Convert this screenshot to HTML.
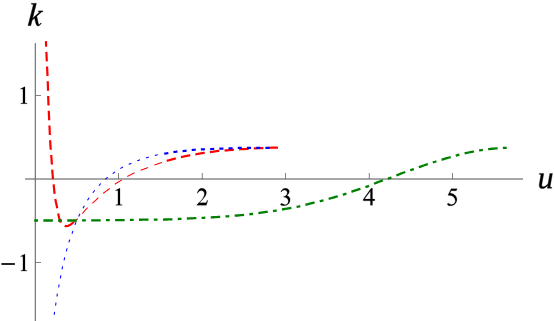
<!DOCTYPE html>
<html><head><meta charset="utf-8"><title>plot</title>
<style>
html,body{margin:0;padding:0;background:#fff;}
svg{display:block;}
</style></head>
<body>
<svg width="554" height="321" viewBox="0 0 554 321">
<rect width="554" height="321" fill="#fff"/>
<g fill="none">
<line x1="25.0" y1="179.0" x2="523" y2="179.0" stroke="#505050" stroke-width="1"/>
<line x1="35.3" y1="43.3" x2="35.3" y2="321" stroke="#666" stroke-width="1.1"/>
</g>
<g stroke="#666" stroke-width="0.83" fill="none">
<line x1="118.50" y1="179.0" x2="118.50" y2="173.0"/><line x1="202.30" y1="179.0" x2="202.30" y2="173.0"/><line x1="285.50" y1="179.0" x2="285.50" y2="173.0"/><line x1="369.30" y1="179.0" x2="369.30" y2="173.0"/><line x1="452.50" y1="179.0" x2="452.50" y2="173.0"/>
<line x1="35.3" y1="95.5" x2="41.0" y2="95.5"/><line x1="35.3" y1="262.5" x2="41.0" y2="262.5"/>
</g>
<g fill="#000">
<path transform="translate(112.50 205.20) scale(0.01245 -0.01245)" d="M240 1194L570 1356L603 1356L603 200Q603 90 620 65Q645 40 774 37L774 0L264 0L264 37Q395 40 420 65Q438 90 438 200L438 942Q438 1090 428 1132Q415 1194 358 1194Q321 1194 255 1163Z" stroke="#000" stroke-width="16.1"/>
<path transform="translate(196.18 205.20) scale(0.01245 -0.01245)" d="M939 387L814 0H55V37Q390 342 526.5 536Q663 730 663 891Q663 1014 588 1093Q513 1172 408 1172Q313 1172 237.5 1116.5Q162 1061 126 954H89Q113 1131 210.5 1243.5Q308 1356 455 1356Q612 1356 717 1255.5Q822 1155 822 1018Q822 920 777 822Q707 669 550 498Q315 241 256 188H592Q694 188 735.5 195.5Q777 203 811 226.5Q845 250 870 387Z" stroke="#000" stroke-width="16.1"/>
<path transform="translate(279.52 205.20) scale(0.01245 -0.01245)" d="M104 1077Q162 1214 250.5 1288.5Q339 1363 471 1363Q634 1363 721 1257Q787 1178 787 1088Q787 940 601 782Q726 733 790 642Q854 551 854 428Q854 252 742 123Q596 -45 319 -45Q182 -45 132.5 -11Q83 23 83 62Q83 91 106.5 113Q130 135 163 135Q188 135 214 127Q231 122 291 90.5Q351 59 374 53Q411 42 453 42Q555 42 630.5 121Q706 200 706 308Q706 387 671 462Q645 518 614 547Q571 587 496 619.5Q421 652 343 652H311V682Q390 692 469.5 739Q549 786 585 852Q621 918 621 997Q621 1100 556.5 1163.5Q492 1227 396 1227Q241 1227 137 1061Z" stroke="#000" stroke-width="16.1"/>
<path transform="translate(362.88 205.20) scale(0.01245 -0.01245)" d="M953 490V350H771V0H606V350H32V476L661 1356H771V490ZM606 490V1150L135 490Z" stroke="#000" stroke-width="16.1"/>
<path transform="translate(446.10 205.20) scale(0.01245 -0.01245)" d="M892 1328L814 1158H406L317 976Q582 937 737 779Q870 643 870 459Q870 352 826.5 261Q783 170 717 106Q651 42 570 3Q455 -52 334 -52Q212 -52 156.5 -10.5Q101 31 101 81Q101 109 124 130.5Q147 152 182 152Q208 152 227.5 144Q247 136 294 103Q369 51 446 51Q563 51 651.5 139.5Q740 228 740 355Q740 478 661 584.5Q582 691 443 749Q334 794 146 801L406 1328Z" stroke="#000" stroke-width="16.1"/>
<path transform="translate(17.50 103.70) scale(0.01245 -0.01245)" d="M240 1194L570 1356L603 1356L603 200Q603 90 620 65Q645 40 774 37L774 0L264 0L264 37Q395 40 420 65Q438 90 438 200L438 942Q438 1090 428 1132Q415 1194 358 1194Q321 1194 255 1163Z" stroke="#000" stroke-width="16.1"/>
<path transform="translate(17.50 271.10) scale(0.01245 -0.01245)" d="M240 1194L570 1356L603 1356L603 200Q603 90 620 65Q645 40 774 37L774 0L264 0L264 37Q395 40 420 65Q438 90 438 200L438 942Q438 1090 428 1132Q415 1194 358 1194Q321 1194 255 1163Z" stroke="#000" stroke-width="16.1"/>
<rect x="1.4" y="263.15" width="13.5" height="1.7"/>
<path transform="translate(27.20 25.60) scale(0.01562 -0.01562) skewX(4.3)" d="M299 1352L164 1376L172 1421H477L305 453L733 868L639 895L647 940H939L931 895L850 872L566 600Q645 300 700 135Q724 62 756 62Q798 62 860 165L893 145Q800 -20 690 -20Q610 -20 560 110L435 479L287 340L225 0H59Z" stroke="#000" stroke-width="32.0"/>
<path transform="translate(537.60 188.20) scale(0.01562 -0.01562)" d="M268 193Q268 148 292.0 120.0Q316 92 368 92Q443 92 530.0 154.5Q617 217 673 308L784 940H950L797 70L915 45L907 0H629L656 193Q573 86 483.0 31.0Q393 -24 305 -24Q204 -24 153.0 30.5Q102 85 102 187Q102 202 107.5 240.5Q113 279 215 871L104 895L112 940H393L291 359Q268 233 268 193Z" stroke="#000" stroke-width="22.4"/>
</g>
<g fill="none" stroke-linecap="butt" stroke-linejoin="round">
<path d="M71.50 223.80 L71.82 223.59 L72.14 223.37 L72.46 223.15 L72.78 222.92 L73.09 222.69 L73.40 222.46 L73.71 222.23 L74.02 221.99 L74.32 221.75 L74.62 221.50 L74.92 221.25 L75.22 221.00 L75.51 220.75 L75.80 220.49 L76.09 220.23 L76.38 219.97 L76.66 219.71 L76.94 219.44 L77.22 219.17 L77.50 218.90 L77.77 218.63 L78.05 218.35 L78.32 218.07 L78.58 217.79 L78.85 217.51 L79.11 217.22 L79.37 216.94 L79.64 216.65 L79.89 216.36 L80.15 216.07 L80.41 215.78 L80.66 215.49 L80.92 215.20 L81.17 214.90 L81.42 214.61 L81.68 214.31 L81.93 214.02 L82.18 213.72 L82.43 213.43 L82.68 213.13 L82.94 212.84 L83.19 212.54 L83.44 212.25 L83.70 211.95 L83.95 211.66 L84.20 211.37 L84.46 211.07 L84.72 210.78 L84.97 210.49 L85.23 210.20 L85.49 209.92 L85.75 209.63 L86.02 209.34 L86.28 209.06 L86.55 208.78 L86.81 208.50 L87.08 208.22 L87.36 207.94 L87.63 207.67 L87.91 207.40 L88.18 207.13 L88.46 206.86 L88.75 206.60 L89.03 206.33 L89.31 206.07 L89.60 205.81 L89.89 205.54 L90.17 205.28 L90.46 205.03 L90.75 204.77 L91.04 204.51 L91.33 204.25 L91.62 203.99 L91.91 203.73 L92.20 203.47 L92.49 203.21 L92.77 202.95 L93.06 202.69 L93.35 202.43 L93.63 202.17 L93.92 201.90 L94.20 201.64 L94.48 201.38 L94.77 201.11 L95.05 200.85 L95.33 200.58 L95.62 200.32 L95.90 200.05 L96.18 199.78 L96.46 199.52 L96.74 199.25 L97.02 198.98 L97.31 198.72 L97.59 198.45 L97.87 198.18 L98.15 197.92 L98.43 197.65 L98.71 197.38 L99.00 197.12 L99.28 196.85 L99.56 196.58 L99.84 196.32 L100.13 196.05 L100.41 195.79 L100.70 195.52 L100.98 195.26 L101.27 195.00 L101.56 194.74 L101.85 194.49 L102.14 194.23 L102.44 193.98 L102.73 193.73 L103.03 193.48 L103.33 193.24 L103.63 192.99 L103.94 192.76 L104.24 192.52 L104.55 192.28 L104.86 192.05 L105.17 191.82 L105.49 191.59 L105.80 191.36 L106.11 191.13 L106.43 190.91 L106.74 190.68 L107.06 190.45 L107.37 190.23 L107.68 190.00 L108.00 189.77 L108.31 189.54 L108.62 189.31 L108.93 189.07 L109.24 188.84 L109.55 188.60 L109.85 188.36 L110.15 188.12 L110.45 187.87 L110.75 187.62 L111.05 187.37 L111.35 187.12 L111.64 186.87 L111.94 186.62 L112.24 186.37 L112.53 186.12 L112.83 185.87 L113.13 185.62 L113.43 185.37 L113.73 185.13 L114.03 184.89 L114.33 184.65 L114.64 184.41 L114.95 184.18 L115.26 183.95 L115.58 183.73 L115.90 183.51 L116.22 183.30 L116.55 183.09 L116.87 182.88 L117.20 182.68 L117.54 182.48 L117.87 182.28 L118.20 182.08 L118.54 181.89 L118.87 181.69 L119.21 181.50 L119.55 181.31 L119.89 181.11 L120.22 180.92 L120.56 180.73 L120.90 180.53 L121.23 180.34 L121.57 180.14 L121.90 179.94 L122.23 179.74 L122.56 179.54 L122.89 179.33 L123.22 179.12 L123.55 178.92 L123.88 178.71 L124.21 178.50 L124.53 178.29 L124.86 178.08 L125.19 177.87 L125.51 177.67 L125.84 177.46 L126.17 177.25 L126.50 177.05 L126.83 176.84 L127.16 176.64 L127.49 176.44 L127.82 176.25 L128.16 176.05 L128.49 175.86 L128.83 175.67 L129.17 175.48 L129.51 175.30 L129.85 175.11 L130.20 174.93 L130.54 174.75 L130.89 174.58 L131.23 174.40 L131.58 174.23 L131.93 174.06 L132.28 173.89 L132.63 173.72 L132.98 173.56 L133.33 173.39 L133.69 173.23 L134.04 173.07 L134.39 172.91 L134.75 172.75 L135.10 172.60 L135.46 172.44 L135.82 172.29 L136.17 172.14 L136.53 171.98 L136.89 171.83 L137.24 171.68 L137.60 171.54 L137.96 171.39 L138.32 171.24 L138.68 171.10 L139.04 170.95 L139.40 170.81 L139.76 170.66 L140.12 170.52 L140.48 170.38 L140.84 170.24 L141.20 170.10 L141.57 169.96 L141.93 169.82 L142.29 169.68 L142.65 169.54 L143.01 169.41 L143.38 169.27 L143.74 169.13 L144.10 168.99 L144.46 168.86 L144.83 168.72 L145.19 168.58 L145.55 168.44 L145.92 168.31 L146.28 168.17 L146.64 168.03 L147.00 167.89 L147.37 167.76 L147.73 167.62 L148.09 167.48 L148.45 167.34 L148.81 167.20 L149.17 167.05 L149.53 166.91 L149.89 166.77 L150.25 166.63 L150.62 166.48 L150.98 166.34 L151.34 166.20 L151.70 166.05 L152.06 165.91 L152.42 165.77 L152.78 165.63 L153.14 165.49 L153.50 165.35 L153.87 165.21 L154.23 165.07 L154.59 164.94 L154.96 164.81 L155.32 164.67 L155.69 164.54 L156.05 164.42 L156.42 164.29 L156.78 164.16 L157.15 164.04 L157.52 163.91 L157.88 163.79 L158.25 163.66 L158.62 163.54 L158.99 163.42 L159.36 163.30 L159.73 163.18 L160.09 163.06 L160.46 162.94 L160.83 162.82 L161.20 162.69 L161.57 162.57 L161.94 162.45 L162.31 162.33 L162.67 162.21 L163.04 162.09 L163.41 161.96 L163.78 161.84 L164.14 161.71 L164.51 161.59 L164.88 161.46 L165.24 161.33 L165.61 161.20 L165.97 161.07 L166.34 160.93 L166.70 160.80" stroke="#ff0000" stroke-width="1.05" stroke-dasharray="8.1 6.6" stroke-dashoffset="0"/>
<path d="M45.95 41.10 L45.97 41.76 L45.99 42.42 L46.02 43.08 L46.04 43.74 L46.06 44.40 L46.09 45.06 L46.11 45.73 L46.14 46.39 L46.16 47.05 L46.19 47.71 L46.22 48.37 L46.24 49.03 L46.27 49.69 L46.30 50.35 L46.33 51.01 L46.36 51.67 L46.39 52.33 L46.42 52.99 L46.45 53.65 L46.48 54.31 L46.51 54.97 L46.54 55.63 L46.57 56.29 L46.60 56.95 L46.64 57.61 L46.67 58.27 L46.70 58.94 L46.73 59.60 L46.76 60.26 L46.80 60.92 L46.83 61.58 L46.86 62.24 L46.89 62.90 L46.93 63.56 L46.96 64.22 L46.99 64.88 L47.02 65.54 L47.06 66.20 L47.09 66.86 L47.12 67.52 L47.15 68.18 L47.19 68.84 L47.22 69.50 L47.25 70.16 L47.28 70.82 L47.31 71.48 L47.34 72.14 L47.37 72.80 L47.40 73.46 L47.43 74.12 L47.46 74.79 L47.49 75.45 L47.52 76.11 L47.55 76.77 L47.58 77.43 L47.61 78.09 L47.63 78.75 L47.66 79.41 L47.69 80.07 L47.71 80.73 L47.74 81.39 L47.76 82.05 L47.79 82.71 L47.81 83.37 L47.84 84.03 L47.86 84.69 L47.88 85.36 L47.90 86.02 L47.92 86.68 L47.94 87.34 L47.96 88.00 L47.98 88.66 L48.00 89.32 L48.02 89.98 L48.03 90.64 L48.05 91.30 L48.07 91.96 L48.09 92.62 L48.10 93.29 L48.12 93.95 L48.14 94.61 L48.16 95.27 L48.18 95.93 L48.19 96.59 L48.21 97.25 L48.23 97.91 L48.25 98.57 L48.27 99.23 L48.30 99.89 L48.32 100.56 L48.34 101.22 L48.37 101.88 L48.39 102.54 L48.42 103.20 L48.44 103.86 L48.47 104.52 L48.50 105.18 L48.53 105.84 L48.55 106.50 L48.58 107.16 L48.61 107.82 L48.64 108.48 L48.67 109.14 L48.70 109.80 L48.73 110.46 L48.76 111.12 L48.80 111.78 L48.83 112.45 L48.86 113.11 L48.89 113.77 L48.92 114.43 L48.95 115.09 L48.99 115.75 L49.02 116.41 L49.05 117.07 L49.08 117.73 L49.11 118.39 L49.15 119.05 L49.18 119.71 L49.21 120.37 L49.24 121.03 L49.27 121.69 L49.30 122.35 L49.33 123.01 L49.36 123.67 L49.39 124.33 L49.43 124.99 L49.46 125.65 L49.49 126.31 L49.52 126.97 L49.55 127.63 L49.58 128.30 L49.60 128.96 L49.63 129.62 L49.66 130.28 L49.69 130.94 L49.72 131.60 L49.75 132.26 L49.77 132.92 L49.80 133.58 L49.83 134.24 L49.86 134.90 L49.89 135.56 L49.92 136.22 L49.95 136.88 L49.98 137.54 L50.01 138.20 L50.04 138.86 L50.08 139.52 L50.11 140.18 L50.15 140.85 L50.18 141.51 L50.22 142.17 L50.26 142.83 L50.30 143.48 L50.34 144.14 L50.39 144.80 L50.43 145.46 L50.48 146.12 L50.53 146.78 L50.58 147.44 L50.63 148.10 L50.68 148.76 L50.74 149.42 L50.79 150.08 L50.84 150.74 L50.90 151.40 L50.96 152.05 L51.01 152.71 L51.07 153.37 L51.12 154.03 L51.18 154.69 L51.23 155.35 L51.29 156.01 L51.34 156.67 L51.40 157.33 L51.45 157.98 L51.50 158.64 L51.55 159.30 L51.60 159.96 L51.64 160.62 L51.69 161.28 L51.73 161.94 L51.78 162.60 L51.82 163.26 L51.86 163.92 L51.90 164.58 L51.94 165.24 L51.99 165.90 L52.03 166.56 L52.07 167.22 L52.11 167.88 L52.15 168.54 L52.19 169.20 L52.24 169.86 L52.28 170.52 L52.33 171.18 L52.38 171.84 L52.43 172.50 L52.48 173.16 L52.53 173.82 L52.59 174.47 L52.65 175.13 L52.71 175.79 L52.77 176.45 L52.84 177.11 L52.90 177.76 L52.97 178.42 L53.04 179.08 L53.11 179.73 L53.18 180.39 L53.25 181.05 L53.32 181.71 L53.39 182.36 L53.46 183.02 L53.53 183.68 L53.61 184.34 L53.68 184.99 L53.75 185.65 L53.82 186.31 L53.89 186.97 L53.96 187.62 L54.03 188.28 L54.09 188.94 L54.16 189.60 L54.22 190.26 L54.29 190.92 L54.35 191.58 L54.42 192.24 L54.49 192.89 L54.56 193.55 L54.63 194.21 L54.71 194.87 L54.79 195.52 L54.87 196.18 L54.96 196.83 L55.05 197.49 L55.16 198.14 L55.26 198.79 L55.38 199.44 L55.50 200.09 L55.63 200.74 L55.76 201.38 L55.90 202.03 L56.04 202.68 L56.19 203.32 L56.33 203.97 L56.48 204.61 L56.62 205.26 L56.76 205.90 L56.90 206.55 L57.04 207.20 L57.17 207.85 L57.30 208.50 L57.42 209.15 L57.53 209.80 L57.65 210.45 L57.76 211.10 L57.88 211.75 L57.99 212.40 L58.11 213.05 L58.23 213.70 L58.36 214.35 L58.49 214.99 L58.63 215.63 L58.78 216.28 L58.94 216.91 L59.10 217.55 L59.28 218.19 L59.46 218.82 L59.66 219.46 L59.87 220.09 L60.09 220.72 L60.33 221.34 L60.59 221.97 L60.86 222.59 L61.16 223.20 L61.50 223.77 L61.90 224.29 L62.36 224.74 L62.90 225.13 L63.49 225.45 L64.11 225.70 L64.75 225.90 L65.41 226.04 L66.07 226.11 L66.73 226.11 L67.37 226.02 L68.01 225.85 L68.63 225.62 L69.24 225.33 L69.83 225.00 L70.42 224.63 L70.98 224.24 L71.54 223.84 L72.08 223.43 L72.60 223.03 L73.11 222.65 L73.60 222.30" stroke="#ff0000" stroke-width="2.2" stroke-dasharray="9.5 5.25" stroke-dashoffset="4.0"/>
<path d="M166.70 160.80 L167.06 160.71 L167.43 160.61 L167.79 160.52 L168.16 160.42 L168.52 160.33 L168.88 160.23 L169.25 160.14 L169.61 160.04 L169.97 159.95 L170.34 159.85 L170.70 159.76 L171.06 159.66 L171.43 159.56 L171.79 159.47 L172.15 159.37 L172.52 159.28 L172.88 159.18 L173.25 159.09 L173.61 158.99 L173.97 158.90 L174.34 158.80 L174.70 158.71 L175.06 158.61 L175.43 158.52 L175.79 158.43 L176.16 158.33 L176.52 158.24 L176.89 158.15 L177.25 158.06 L177.62 157.97 L177.98 157.88 L178.34 157.78 L178.71 157.69 L179.07 157.61 L179.44 157.52 L179.81 157.43 L180.17 157.34 L180.54 157.26 L180.90 157.17 L181.27 157.08 L181.64 157.00 L182.00 156.92 L182.37 156.83 L182.74 156.75 L183.10 156.67 L183.47 156.59 L183.84 156.51 L184.20 156.43 L184.57 156.35 L184.94 156.27 L185.31 156.20 L185.68 156.12 L186.05 156.05 L186.41 155.97 L186.78 155.90 L187.15 155.83 L187.52 155.75 L187.89 155.68 L188.26 155.61 L188.63 155.54 L189.00 155.47 L189.37 155.40 L189.74 155.34 L190.11 155.27 L190.48 155.20 L190.85 155.14 L191.22 155.07 L191.59 155.01 L191.96 154.95 L192.33 154.88 L192.70 154.82 L193.07 154.76 L193.44 154.69 L193.81 154.63 L194.18 154.57 L194.55 154.50 L194.92 154.44 L195.29 154.37 L195.66 154.31 L196.03 154.24 L196.40 154.17 L196.77 154.10 L197.14 154.04 L197.51 153.97 L197.88 153.90 L198.25 153.83 L198.62 153.76 L198.99 153.69 L199.36 153.62 L199.73 153.55 L200.10 153.49 L200.47 153.42 L200.84 153.35 L201.21 153.29 L201.58 153.22 L201.95 153.16 L202.32 153.10 L202.69 153.04 L203.06 152.98 L203.44 152.92 L203.81 152.87 L204.18 152.81 L204.55 152.76 L204.92 152.71 L205.30 152.66 L205.67 152.62 L206.04 152.57 L206.42 152.53 L206.79 152.49 L207.16 152.45 L207.54 152.41 L207.91 152.37 L208.28 152.33 L208.66 152.29 L209.03 152.25 L209.41 152.21 L209.78 152.16 L210.15 152.12 L210.53 152.07 L210.90 152.02 L211.27 151.97 L211.64 151.92 L212.02 151.86 L212.39 151.81 L212.76 151.75 L213.13 151.70 L213.50 151.64 L213.88 151.58 L214.25 151.52 L214.62 151.46 L214.99 151.41 L215.36 151.35 L215.73 151.29 L216.11 151.24 L216.48 151.19 L216.85 151.13 L217.22 151.08 L217.59 151.03 L217.97 150.99 L218.34 150.94 L218.71 150.90 L219.09 150.86 L219.46 150.82 L219.83 150.79 L220.21 150.76 L220.58 150.73 L220.96 150.70 L221.33 150.68 L221.71 150.66 L222.08 150.64 L222.46 150.62 L222.84 150.60 L223.21 150.58 L223.59 150.56 L223.96 150.55 L224.34 150.53 L224.71 150.51 L225.09 150.48 L225.46 150.46 L225.84 150.43 L226.21 150.41 L226.59 150.38 L226.96 150.35 L227.34 150.32 L227.71 150.29 L228.09 150.25 L228.46 150.22 L228.84 150.19 L229.21 150.15 L229.58 150.12 L229.96 150.08 L230.33 150.05 L230.71 150.01 L231.08 149.98 L231.46 149.94 L231.83 149.90 L232.20 149.87 L232.58 149.83 L232.95 149.80 L233.33 149.76 L233.70 149.73 L234.08 149.69 L234.45 149.66 L234.82 149.63 L235.20 149.60 L235.57 149.56 L235.95 149.53 L236.32 149.50 L236.70 149.48 L237.07 149.45 L237.45 149.42 L237.82 149.39 L238.20 149.37 L238.57 149.34 L238.95 149.32 L239.32 149.30 L239.70 149.28 L240.07 149.26 L240.45 149.24 L240.82 149.22 L241.20 149.20 L241.58 149.18 L241.95 149.16 L242.33 149.14 L242.70 149.13 L243.08 149.11 L243.45 149.09 L243.83 149.08 L244.20 149.06 L244.58 149.04 L244.96 149.02 L245.33 149.00 L245.71 148.99 L246.08 148.97 L246.46 148.95 L246.83 148.93 L247.21 148.90 L247.58 148.88 L247.96 148.86 L248.33 148.83 L248.71 148.81 L249.08 148.78 L249.46 148.75 L249.83 148.72 L250.21 148.69 L250.58 148.66 L250.96 148.63 L251.33 148.60 L251.71 148.57 L252.08 148.54 L252.46 148.51 L252.83 148.48 L253.21 148.45 L253.58 148.43 L253.96 148.40 L254.33 148.38 L254.71 148.36 L255.08 148.34 L255.46 148.32 L255.83 148.31 L256.21 148.29 L256.58 148.28 L256.96 148.27 L257.33 148.26 L257.71 148.25 L258.09 148.24 L258.46 148.23 L258.84 148.22 L259.21 148.21 L259.59 148.20 L259.97 148.20 L260.34 148.19 L260.72 148.18 L261.09 148.17 L261.47 148.16 L261.84 148.15 L262.22 148.14 L262.60 148.13 L262.97 148.12 L263.35 148.10 L263.72 148.09 L264.10 148.07 L264.47 148.05 L264.85 148.03 L265.23 148.02 L265.60 148.00 L265.98 147.97 L266.35 147.95 L266.73 147.93 L267.10 147.91 L267.48 147.89 L267.85 147.87 L268.23 147.85 L268.60 147.83 L268.98 147.81 L269.35 147.79 L269.73 147.77 L270.10 147.75 L270.48 147.73 L270.86 147.72 L271.23 147.70 L271.61 147.69 L271.98 147.68 L272.36 147.67 L272.73 147.66 L273.11 147.65 L273.48 147.65 L273.86 147.65 L274.24 147.65 L274.61 147.65 L274.99 147.65 L275.36 147.66 L275.74 147.67 L276.12 147.68 L276.49 147.70 L276.87 147.72 L277.25 147.74 L277.62 147.77 L278.00 147.80" stroke="#ff0000" stroke-width="2.2" stroke-dasharray="9.5 5.2" stroke-dashoffset="0"/>
<path d="M54.20 314.80 L54.29 314.09 L54.38 313.39 L54.47 312.68 L54.57 311.98 L54.67 311.27 L54.78 310.57 L54.88 309.86 L54.99 309.16 L55.11 308.46 L55.22 307.76 L55.33 307.05 L55.44 306.35 L55.56 305.65 L55.67 304.94 L55.78 304.24 L55.89 303.54 L55.99 302.83 L56.10 302.13 L56.20 301.42 L56.31 300.72 L56.41 300.01 L56.51 299.31 L56.62 298.61 L56.72 297.90 L56.83 297.20 L56.94 296.50 L57.05 295.79 L57.17 295.09 L57.29 294.39 L57.41 293.69 L57.53 292.99 L57.66 292.29 L57.79 291.59 L57.92 290.89 L58.05 290.19 L58.18 289.49 L58.32 288.79 L58.45 288.09 L58.59 287.39 L58.73 286.69 L58.86 285.99 L59.00 285.29 L59.13 284.59 L59.27 283.90 L59.41 283.20 L59.54 282.50 L59.67 281.80 L59.81 281.10 L59.94 280.40 L60.07 279.70 L60.21 279.00 L60.34 278.30 L60.47 277.60 L60.60 276.90 L60.73 276.20 L60.86 275.50 L60.99 274.80 L61.12 274.10 L61.25 273.40 L61.38 272.70 L61.51 272.00 L61.64 271.30 L61.78 270.60 L61.91 269.90 L62.05 269.21 L62.19 268.51 L62.33 267.81 L62.48 267.12 L62.63 266.42 L62.78 265.72 L62.94 265.03 L63.10 264.33 L63.26 263.64 L63.42 262.95 L63.58 262.26 L63.75 261.56 L63.92 260.87 L64.08 260.18 L64.25 259.49 L64.43 258.80 L64.60 258.11 L64.77 257.42 L64.95 256.73 L65.12 256.04 L65.30 255.35 L65.47 254.66 L65.65 253.97 L65.83 253.28 L66.01 252.59 L66.19 251.90 L66.37 251.21 L66.55 250.52 L66.74 249.84 L66.92 249.15 L67.11 248.46 L67.30 247.77 L67.49 247.09 L67.68 246.40 L67.87 245.72 L68.07 245.03 L68.27 244.35 L68.48 243.67 L68.69 242.99 L68.90 242.31 L69.12 241.63 L69.35 240.96 L69.58 240.28 L69.81 239.61 L70.05 238.94 L70.29 238.27 L70.54 237.60 L70.78 236.93 L71.03 236.27 L71.28 235.60 L71.52 234.93 L71.77 234.26 L72.01 233.59 L72.25 232.92 L72.48 232.25 L72.71 231.58 L72.94 230.90 L73.16 230.22 L73.38 229.55 L73.60 228.87 L73.83 228.19 L74.05 227.52 L74.27 226.84 L74.50 226.17 L74.73 225.49 L74.97 224.82 L75.21 224.15 L75.47 223.49 L75.73 222.83 L75.99 222.17 L76.27 221.51 L76.56 220.86 L76.85 220.21 L77.14 219.56 L77.45 218.92 L77.75 218.28 L78.07 217.64 L78.38 217.00 L78.71 216.36 L79.03 215.73 L79.36 215.09 L79.68 214.46 L80.02 213.83 L80.35 213.20 L80.68 212.57 L81.02 211.94 L81.36 211.32 L81.69 210.69 L82.03 210.07 L82.37 209.44 L82.71 208.82 L83.05 208.19 L83.39 207.56 L83.73 206.94 L84.07 206.31 L84.41 205.69 L84.76 205.06 L85.10 204.44 L85.44 203.81 L85.79 203.19 L86.14 202.57 L86.50 201.95 L86.86 201.34 L87.22 200.73 L87.59 200.12 L87.97 199.52 L88.36 198.92 L88.75 198.33 L89.15 197.74 L89.55 197.15 L89.96 196.57 L90.38 196.00 L90.81 195.42 L91.23 194.86 L91.67 194.29 L92.10 193.73 L92.55 193.17 L92.99 192.61 L93.43 192.05 L93.88 191.50 L94.33 190.95 L94.78 190.39 L95.24 189.85 L95.69 189.30 L96.15 188.75 L96.61 188.21 L97.07 187.67 L97.54 187.13 L98.01 186.60 L98.48 186.06 L98.96 185.53 L99.44 185.01 L99.92 184.49 L100.41 183.97 L100.90 183.45 L101.40 182.94 L101.90 182.43 L102.40 181.93 L102.91 181.43 L103.42 180.94 L103.94 180.45 L104.47 179.97 L105.00 179.49 L105.53 179.02 L106.07 178.55 L106.61 178.09 L107.16 177.64 L107.71 177.19 L108.27 176.75 L108.83 176.31 L109.40 175.88 L109.97 175.46 L110.54 175.04 L111.12 174.62 L111.70 174.20 L112.28 173.79 L112.87 173.38 L113.45 172.98 L114.04 172.57 L114.63 172.17 L115.22 171.77 L115.81 171.37 L116.40 170.98 L117.00 170.59 L117.60 170.20 L118.20 169.82 L118.80 169.44 L119.41 169.07 L120.02 168.70 L120.63 168.34 L121.25 167.99 L121.87 167.65 L122.50 167.31 L123.13 166.98 L123.77 166.66 L124.40 166.35 L125.04 166.04 L125.69 165.73 L126.33 165.43 L126.98 165.13 L127.63 164.84 L128.28 164.55 L128.94 164.26 L129.59 163.98 L130.24 163.69 L130.90 163.41 L131.55 163.13 L132.21 162.85 L132.87 162.58 L133.52 162.31 L134.18 162.04 L134.84 161.77 L135.50 161.51 L136.17 161.25 L136.83 160.99 L137.50 160.74 L138.16 160.49 L138.83 160.25 L139.50 160.02 L140.18 159.79 L140.85 159.56 L141.53 159.34 L142.20 159.12 L142.88 158.90 L143.56 158.69 L144.24 158.48 L144.92 158.27 L145.61 158.07 L146.29 157.86 L146.97 157.66 L147.65 157.45 L148.34 157.25 L149.02 157.05 L149.70 156.85 L150.39 156.65 L151.07 156.45 L151.76 156.26 L152.44 156.07 L153.13 155.88 L153.82 155.69 L154.51 155.51 L155.20 155.34 L155.89 155.17 L156.58 155.00 L157.27 154.85 L157.97 154.70 L158.66 154.55 L159.36 154.41 L160.06 154.28 L160.76 154.16 L161.47 154.05 L162.17 153.95 L162.88 153.86 L163.59 153.77 L164.30 153.70" stroke="#0000ff" stroke-width="1.05" stroke-dasharray="3 6.24" stroke-dashoffset="0"/>
<path d="M164.30 153.70 L164.65 153.66 L165.00 153.61 L165.35 153.56 L165.71 153.51 L166.06 153.45 L166.41 153.40 L166.76 153.34 L167.11 153.28 L167.46 153.22 L167.80 153.16 L168.15 153.10 L168.50 153.04 L168.85 152.97 L169.20 152.91 L169.55 152.84 L169.90 152.77 L170.25 152.71 L170.59 152.64 L170.94 152.58 L171.29 152.51 L171.64 152.45 L171.99 152.38 L172.34 152.32 L172.69 152.25 L173.04 152.19 L173.38 152.13 L173.73 152.07 L174.08 152.01 L174.43 151.96 L174.78 151.90 L175.13 151.85 L175.48 151.80 L175.84 151.75 L176.19 151.71 L176.54 151.66 L176.89 151.62 L177.24 151.58 L177.59 151.54 L177.95 151.51 L178.30 151.47 L178.65 151.44 L179.01 151.40 L179.36 151.37 L179.71 151.34 L180.07 151.31 L180.42 151.28 L180.77 151.25 L181.13 151.22 L181.48 151.19 L181.83 151.16 L182.19 151.13 L182.54 151.10 L182.89 151.07 L183.25 151.04 L183.60 151.01 L183.95 150.97 L184.31 150.94 L184.66 150.90 L185.01 150.87 L185.36 150.83 L185.72 150.79 L186.07 150.75 L186.42 150.71 L186.77 150.67 L187.13 150.63 L187.48 150.59 L187.83 150.54 L188.18 150.50 L188.53 150.46 L188.89 150.41 L189.24 150.37 L189.59 150.32 L189.94 150.28 L190.29 150.24 L190.65 150.19 L191.00 150.15 L191.35 150.11 L191.70 150.07 L192.05 150.03 L192.41 149.99 L192.76 149.95 L193.11 149.91 L193.46 149.87 L193.82 149.84 L194.17 149.80 L194.52 149.77 L194.87 149.74 L195.23 149.71 L195.58 149.68 L195.93 149.65 L196.29 149.63 L196.64 149.60 L197.00 149.58 L197.35 149.56 L197.70 149.54 L198.06 149.52 L198.41 149.50 L198.77 149.48 L199.12 149.46 L199.47 149.45 L199.83 149.43 L200.18 149.41 L200.54 149.40 L200.89 149.39 L201.25 149.37 L201.60 149.36 L201.95 149.35 L202.31 149.33 L202.66 149.32 L203.02 149.31 L203.37 149.30 L203.73 149.29 L204.08 149.27 L204.44 149.26 L204.79 149.25 L205.15 149.24 L205.50 149.23 L205.85 149.22 L206.21 149.21 L206.56 149.20 L206.92 149.19 L207.27 149.17 L207.63 149.16 L207.98 149.15 L208.33 149.14 L208.69 149.13 L209.04 149.12 L209.40 149.11 L209.75 149.09 L210.11 149.08 L210.46 149.07 L210.81 149.06 L211.17 149.04 L211.52 149.03 L211.88 149.02 L212.23 149.00 L212.59 148.99 L212.94 148.97 L213.29 148.96 L213.65 148.94 L214.00 148.93 L214.36 148.91 L214.71 148.90 L215.07 148.88 L215.42 148.86 L215.77 148.85 L216.13 148.83 L216.48 148.82 L216.84 148.80 L217.19 148.78 L217.54 148.77 L217.90 148.75 L218.25 148.73 L218.61 148.72 L218.96 148.70 L219.32 148.69 L219.67 148.67 L220.02 148.66 L220.38 148.64 L220.73 148.63 L221.09 148.62 L221.44 148.60 L221.80 148.59 L222.15 148.58 L222.50 148.56 L222.86 148.55 L223.21 148.54 L223.57 148.53 L223.92 148.52 L224.28 148.51 L224.63 148.50 L224.98 148.49 L225.34 148.48 L225.69 148.47 L226.05 148.46 L226.40 148.44 L226.76 148.43 L227.11 148.42 L227.47 148.41 L227.82 148.40 L228.17 148.39 L228.53 148.38 L228.88 148.37 L229.24 148.35 L229.59 148.34 L229.95 148.33 L230.30 148.32 L230.65 148.30 L231.01 148.29 L231.36 148.27 L231.72 148.26 L232.07 148.24 L232.43 148.23 L232.78 148.21 L233.13 148.19 L233.49 148.18 L233.84 148.16 L234.20 148.14 L234.55 148.12 L234.90 148.11 L235.26 148.09 L235.61 148.07 L235.97 148.06 L236.32 148.04 L236.68 148.03 L237.03 148.01 L237.38 147.99 L237.74 147.98 L238.09 147.96 L238.45 147.95 L238.80 147.94 L239.16 147.92 L239.51 147.91 L239.86 147.90 L240.22 147.89 L240.57 147.88 L240.93 147.87 L241.28 147.86 L241.64 147.86 L241.99 147.85 L242.34 147.84 L242.70 147.84 L243.05 147.83 L243.41 147.83 L243.76 147.82 L244.12 147.82 L244.47 147.82 L244.83 147.81 L245.18 147.81 L245.54 147.81 L245.89 147.81 L246.24 147.81 L246.60 147.80 L246.95 147.80 L247.31 147.80 L247.66 147.80 L248.02 147.80 L248.37 147.80 L248.73 147.80 L249.08 147.80 L249.44 147.80 L249.79 147.80 L250.15 147.80 L250.50 147.80 L250.85 147.80 L251.21 147.80 L251.56 147.80 L251.92 147.80 L252.27 147.80 L252.63 147.80 L252.98 147.80 L253.34 147.80 L253.69 147.80 L254.05 147.80 L254.40 147.80 L254.75 147.80 L255.11 147.80 L255.46 147.80 L255.82 147.80 L256.17 147.80 L256.53 147.80 L256.88 147.80 L257.24 147.80 L257.59 147.80 L257.95 147.80 L258.30 147.80 L258.65 147.80 L259.01 147.80 L259.36 147.80 L259.72 147.80 L260.07 147.80 L260.43 147.80 L260.78 147.80 L261.14 147.80 L261.49 147.80 L261.85 147.80 L262.20 147.80 L262.55 147.80 L262.91 147.80 L263.26 147.80 L263.62 147.80 L263.97 147.80 L264.33 147.80 L264.68 147.80 L265.04 147.80 L265.39 147.80 L265.75 147.80 L266.10 147.80 L266.45 147.80 L266.81 147.80 L267.16 147.80 L267.52 147.80 L267.87 147.80 L268.23 147.80 L268.58 147.80 L268.94 147.80 L269.29 147.80 L269.65 147.80 L270.00 147.80" stroke="#0000ff" stroke-width="2.2" stroke-dasharray="4.1 5.12" stroke-dashoffset="0"/>
<path d="M34.20 220.50 L35.81 220.50 L37.43 220.50 L39.04 220.50 L40.66 220.50 L42.27 220.50 L43.88 220.50 L45.50 220.50 L47.11 220.50 L48.72 220.50 L50.34 220.50 L51.95 220.50 L53.57 220.50 L55.18 220.50 L56.79 220.50 L58.41 220.50 L60.02 220.50 L61.63 220.50 L63.25 220.50 L64.86 220.50 L66.48 220.50 L68.09 220.50 L69.70 220.50 L71.32 220.50 L72.93 220.50 L74.54 220.50 L76.16 220.49 L77.77 220.49 L79.39 220.49 L81.00 220.48 L82.61 220.47 L84.23 220.46 L85.84 220.45 L87.45 220.44 L89.07 220.43 L90.68 220.41 L92.30 220.40 L93.91 220.38 L95.52 220.36 L97.14 220.34 L98.75 220.31 L100.36 220.29 L101.98 220.27 L103.59 220.25 L105.20 220.23 L106.82 220.21 L108.43 220.20 L110.05 220.18 L111.66 220.17 L113.27 220.16 L114.89 220.15 L116.50 220.13 L118.11 220.12 L119.73 220.10 L121.34 220.08 L122.96 220.06 L124.57 220.04 L126.18 220.01 L127.80 219.98 L129.41 219.95 L131.02 219.92 L132.64 219.89 L134.25 219.86 L135.86 219.83 L137.48 219.80 L139.09 219.77 L140.70 219.75 L142.32 219.72 L143.93 219.70 L145.54 219.68 L147.16 219.66 L148.77 219.65 L150.39 219.64 L152.00 219.62 L153.61 219.61 L155.23 219.60 L156.84 219.60 L158.45 219.59 L160.07 219.58 L161.68 219.56 L163.30 219.55 L164.91 219.52 L166.52 219.49 L168.14 219.45 L169.75 219.39 L171.36 219.33 L172.97 219.26 L174.59 219.18 L176.20 219.10 L177.81 219.02 L179.42 218.93 L181.03 218.85 L182.64 218.76 L184.26 218.68 L185.87 218.59 L187.48 218.51 L189.09 218.44 L190.70 218.36 L192.31 218.29 L193.93 218.22 L195.54 218.15 L197.15 218.08 L198.76 218.01 L200.38 217.94 L201.99 217.87 L203.60 217.80 L205.21 217.72 L206.82 217.63 L208.44 217.55 L210.05 217.46 L211.66 217.37 L213.27 217.27 L214.88 217.17 L216.49 217.07 L218.10 216.96 L219.71 216.86 L221.32 216.75 L222.93 216.64 L224.54 216.52 L226.15 216.40 L227.76 216.28 L229.37 216.15 L230.98 216.03 L232.58 215.89 L234.19 215.76 L235.80 215.62 L237.41 215.48 L239.02 215.34 L240.62 215.20 L242.23 215.06 L243.84 214.91 L245.45 214.75 L247.05 214.58 L248.66 214.41 L250.26 214.22 L251.86 214.01 L253.46 213.79 L255.05 213.57 L256.65 213.33 L258.25 213.09 L259.84 212.85 L261.44 212.62 L263.04 212.39 L264.64 212.18 L266.24 211.98 L267.84 211.78 L269.44 211.58 L271.04 211.37 L272.64 211.15 L274.24 210.92 L275.83 210.67 L277.42 210.39 L279.01 210.10 L280.59 209.81 L282.18 209.50 L283.76 209.20 L285.35 208.90 L286.94 208.61 L288.53 208.33 L290.12 208.06 L291.72 207.80 L293.31 207.53 L294.90 207.25 L296.48 206.95 L298.06 206.64 L299.64 206.29 L301.21 205.92 L302.77 205.53 L304.33 205.12 L305.89 204.71 L307.45 204.29 L309.02 203.88 L310.58 203.48 L312.15 203.09 L313.72 202.72 L315.29 202.35 L316.86 201.99 L318.43 201.62 L320.00 201.24 L321.57 200.86 L323.13 200.46 L324.69 200.04 L326.25 199.61 L327.80 199.17 L329.35 198.72 L330.90 198.27 L332.45 197.81 L333.99 197.35 L335.54 196.90 L337.09 196.44 L338.64 195.98 L340.18 195.52 L341.73 195.04 L343.27 194.56 L344.80 194.07 L346.33 193.56 L347.86 193.04 L349.38 192.51 L350.91 191.98 L352.43 191.45 L353.96 190.92 L355.49 190.40 L357.02 189.90 L358.56 189.40 L360.09 188.91 L361.63 188.42 L363.17 187.92 L364.70 187.41 L366.22 186.88 L367.74 186.32 L369.24 185.74 L370.73 185.13 L372.22 184.51 L373.71 183.88 L375.20 183.26 L376.69 182.64 L378.19 182.05 L379.71 181.49 L381.23 180.96 L382.76 180.44 L384.29 179.94 L385.83 179.44 L387.36 178.93 L388.88 178.40 L390.40 177.85 L391.91 177.28 L393.41 176.68 L394.90 176.07 L396.39 175.45 L397.88 174.83 L399.38 174.22 L400.88 173.63 L402.38 173.05 L403.90 172.49 L405.42 171.95 L406.94 171.42 L408.47 170.89 L409.99 170.37 L411.52 169.84 L413.04 169.31 L414.57 168.77 L416.08 168.23 L417.60 167.68 L419.12 167.13 L420.64 166.58 L422.16 166.04 L423.68 165.51 L425.21 164.98 L426.74 164.46 L428.27 163.95 L429.80 163.45 L431.34 162.96 L432.87 162.47 L434.41 161.98 L435.95 161.50 L437.50 161.03 L439.04 160.55 L440.58 160.08 L442.13 159.62 L443.67 159.15 L445.22 158.68 L446.76 158.22 L448.31 157.76 L449.86 157.30 L451.41 156.84 L452.96 156.39 L454.51 155.95 L456.06 155.52 L457.62 155.10 L459.18 154.69 L460.75 154.30 L462.32 153.92 L463.89 153.55 L465.46 153.19 L467.03 152.84 L468.61 152.50 L470.19 152.16 L471.77 151.83 L473.35 151.51 L474.94 151.19 L476.52 150.89 L478.11 150.61 L479.70 150.34 L481.30 150.09 L482.89 149.85 L484.49 149.64 L486.09 149.44 L487.70 149.25 L489.30 149.08 L490.91 148.91 L492.51 148.75 L494.12 148.59 L495.73 148.44 L497.34 148.29 L498.94 148.16 L500.55 148.04 L502.16 147.93 L503.77 147.85 L505.39 147.79 L507.00 147.75" stroke="#008000" stroke-width="2.3" stroke-dasharray="3.8 5.35 9.5 5.27" stroke-dashoffset="0"/>
</g>
</svg>
</body></html>
